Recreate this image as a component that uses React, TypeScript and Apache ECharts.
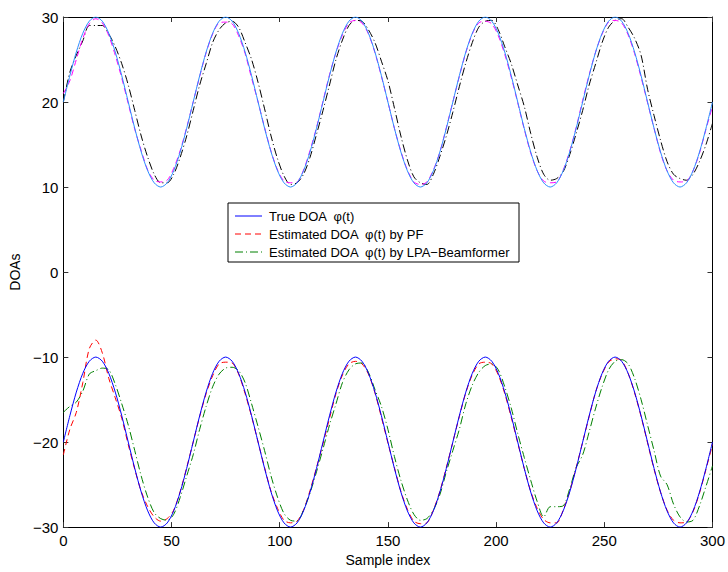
import React, { useEffect, useRef } from "react";
import * as echarts from "echarts";

const sampleStep = 3;

const trueUpper = [
  20, 23.09, 25.88, 28.09, 29.51, 30, 29.51, 28.09, 25.88, 23.09, 20, 16.91, 14.12, 11.91, 10.49, 10, 10.49, 11.91, 14.12, 16.91,
  20, 23.09, 25.88, 28.09, 29.51, 30, 29.51, 28.09, 25.88, 23.09, 20, 16.91, 14.12, 11.91, 10.49, 10, 10.49, 11.91, 14.12, 16.91,
  20, 23.09, 25.88, 28.09, 29.51, 30, 29.51, 28.09, 25.88, 23.09, 20, 16.91, 14.12, 11.91, 10.49, 10, 10.49, 11.91, 14.12, 16.91,
  20, 23.09, 25.88, 28.09, 29.51, 30, 29.51, 28.09, 25.88, 23.09, 20, 16.91, 14.12, 11.91, 10.49, 10, 10.49, 11.91, 14.12, 16.91,
  20, 23.09, 25.88, 28.09, 29.51, 30, 29.51, 28.09, 25.88, 23.09, 20, 16.91, 14.12, 11.91, 10.49, 10, 10.49, 11.91, 14.12, 16.91,
  20,
];

const pfUpper = [
  20, 23.5, 25.5, 27.2, 29, 29, 29, 28, 26.5, 24.5, 22, 19, 16, 13.5, 11.5, 10.5, 10.5, 11.5, 13.5, 16,
  19, 22, 24.5, 27, 28.5, 29.3, 29.5, 28.8, 27, 25, 22.3, 19.2, 16, 13.3, 11.3, 10.3, 10.5, 11.5, 13.5, 16.2,
  19, 22, 25, 27.3, 29, 29.6, 29.5, 28.5, 27, 24.8, 22.5, 19.3, 16, 13.2, 11.2, 10.5, 10.3, 11.5, 13.6, 16,
  18.8, 21.8, 24.6, 27, 28.8, 29.5, 29.6, 28.5, 26.5, 24.5, 22, 19.5, 16.3, 13.5, 11.5, 10.8, 11, 11.8, 13.8, 16.3,
  19, 22, 24.5, 27, 28.8, 29.6, 29.8, 28.8, 27.5, 25.5, 21.5, 18.4, 15.5, 13, 11.5, 11, 10.8, 11.5, 13, 15,
  17.5,
];

const lpaUpper = [
  21, 22.5, 25, 27.5, 29.2, 29.8, 29.3, 27.8, 25.5, 22.8, 19.8, 16.8, 14.3, 12, 10.8, 10.6, 10.8, 12.2, 14.3, 17,
  20, 23, 25.8, 28, 29.3, 29.4, 29.2, 27.8, 25.7, 22.8, 20, 17, 14.2, 12, 10.7, 10.5, 10.6, 12, 14.3, 17,
  20.1, 23.2, 25.8, 27.9, 29.3, 29.6, 29.3, 28, 25.8, 23, 20, 16.9, 14.2, 12, 10.6, 10.3, 10.6, 12, 14.1, 17,
  20, 23, 25.8, 28, 29.3, 29.5, 29.2, 27.8, 25.6, 22.9, 19.9, 16.8, 14, 11.9, 10.7, 10.5, 10.6, 12, 14.2, 17,
  20.2, 23.2, 25.9, 28, 29.4, 29.6, 29.3, 27.9, 25.7, 22.9, 19.9, 16.9, 14, 11.9, 10.8, 10.6, 10.7, 11.9, 14, 16.8,
  19.5,
];

const trueLower = [
  -20, -16.91, -14.12, -11.91, -10.49, -10, -10.49, -11.91, -14.12, -16.91, -20, -23.09, -25.88, -28.09, -29.51, -30, -29.51, -28.09, -25.88, -23.09,
  -20, -16.91, -14.12, -11.91, -10.49, -10, -10.49, -11.91, -14.12, -16.91, -20, -23.09, -25.88, -28.09, -29.51, -30, -29.51, -28.09, -25.88, -23.09,
  -20, -16.91, -14.12, -11.91, -10.49, -10, -10.49, -11.91, -14.12, -16.91, -20, -23.09, -25.88, -28.09, -29.51, -30, -29.51, -28.09, -25.88, -23.09,
  -20, -16.91, -14.12, -11.91, -10.49, -10, -10.49, -11.91, -14.12, -16.91, -20, -23.09, -25.88, -28.09, -29.51, -30, -29.51, -28.09, -25.88, -23.09,
  -20, -16.91, -14.12, -11.91, -10.49, -10, -10.49, -11.91, -14.12, -16.91, -20, -23.09, -25.88, -28.09, -29.51, -30, -29.51, -28.09, -25.88, -23.09,
  -20,
];

const pfLower = [
  -21.5, -18.5, -16.5, -13, -9, -8, -9.5, -12.5, -14.8, -17.2, -20.3, -23.2, -25.8, -27.6, -28.8, -29.3, -29, -28, -25.8, -23,
  -20, -17, -14.3, -12.2, -10.8, -10.6, -10.7, -12, -14.3, -17, -20, -23, -25.8, -27.8, -29.2, -29.5, -29.3, -28, -25.7, -23,
  -20.2, -17.2, -14.3, -12.1, -10.8, -10.5, -10.8, -12, -14.2, -17.1, -20.1, -23, -25.8, -27.9, -29.3, -29.6, -29.5, -28, -25.8, -23,
  -20, -17, -14.2, -12.1, -10.8, -10.6, -10.8, -12.1, -14.3, -17.1, -20.1, -23.1, -25.8, -27.8, -29.1, -29.5, -29.5, -28, -25.8, -23,
  -20, -17, -14.1, -12, -10.6, -10.2, -10.4, -11.9, -14.2, -17, -20.1, -23.2, -25.9, -28, -29.2, -29.5, -29.4, -28.2, -26, -23.2,
  -20.3,
];

const lpaLower = [
  -16.5, -15.8, -15.3, -14, -12, -11.6, -11.3, -11.5, -13.2, -15.5, -18, -21, -24, -26.5, -28.3, -29, -29.2, -28.5, -26.5, -24,
  -21.5, -18.5, -15.8, -13.5, -12, -11.3, -11.2, -11.6, -13, -15.5, -18.2, -21, -24, -26.5, -28.4, -29.2, -29.3, -28, -26, -23.5,
  -20.8, -18, -15.5, -13, -11.5, -10.8, -10.7, -11.8, -13.8, -15.8, -18.5, -21.7, -24.5, -26.8, -28.5, -29.2, -29, -28, -26.2, -23.5,
  -21, -18.5, -15.5, -13.3, -11.8, -11, -10.8, -11.5, -13.5, -16, -19, -21.8, -24.5, -27, -28.8, -27.6, -27.6, -27.5, -25.5, -23,
  -21.5, -18.8, -16, -13.5, -11.5, -10.5, -10.3, -10.8, -12.5, -15, -18, -21, -24, -25, -27.3, -28.8, -29.4, -29.2, -27.5, -25.2,
  -22.8,
];

const xTicks = { min: 0, max: 300, interval: 50 };
const yTicks = { min: -30, max: 30, interval: 10 };

const legendNames = [
  "True DOA  \u03C6(t)",
  "Estimated DOA  \u03C6(t) by PF",
  "Estimated DOA  \u03C6(t) by LPA\u2212Beamformer",
];

function pairs(vals: number[]) {
  return vals.map((v, i) => [i * sampleStep, v]);
}

export default function App() {
  const ref = useRef<HTMLDivElement>(null);
  useEffect(() => {
    if (!ref.current) return;
    const chart = echarts.init(ref.current, undefined, { renderer: "svg" });
    const font = "Liberation Sans, Arial, Helvetica, sans-serif";
    const dashDot = [8, 3, 1, 3];
    const dashed = [6, 4];
    const colors = {
      upperTrue: "#2b8cff",
      upperPF: "#000000",
      upperLPA: "#ff00ff",
      lowerTrue: "#0000ff",
      lowerPF: "#ff0000",
      lowerLPA: "#008000",
    };
    const axisCommon = {
      type: "value" as const,
      splitLine: { show: false },
      axisLine: { show: true, onZero: false, lineStyle: { color: "#000", width: 1 } },
      axisTick: { show: true, inside: true, length: 5, lineStyle: { color: "#333" } },
    };
    const mk = (name: string, vals: number[], color: string, type: any, z = 2) => ({
      name,
      type: "line" as const,
      data: pairs(vals),
      showSymbol: false,
      symbol: "none",
      smooth: 0.3,
      z,
      lineStyle: { color, width: 1, type },
      itemStyle: { color },
    });
    const lx = 228, ly = 203, lw = 291, lh = 59;
    const rowY = [216, 234, 252];
    const legendStyles = [
      { color: colors.lowerTrue, dash: null as any },
      { color: colors.lowerPF, dash: dashed },
      { color: colors.lowerLPA, dash: dashDot },
    ];
    const legendGraphics: any[] = [
      {
        type: "rect",
        shape: { x: lx, y: ly, width: lw, height: lh },
        style: { fill: "#fff", stroke: "#000", lineWidth: 1 },
        z: 100,
      },
    ];
    legendNames.forEach((n, i) => {
      legendGraphics.push({
        type: "line",
        shape: { x1: lx + 7, y1: rowY[i], x2: lx + 34, y2: rowY[i] },
        style: { stroke: legendStyles[i].color, lineWidth: 1, lineDash: legendStyles[i].dash },
        z: 101,
      });
      legendGraphics.push({
        type: "text",
        x: lx + 41,
        y: rowY[i],
        style: { text: n, fill: "#000", font: `13px ${font}`, verticalAlign: "middle", align: "left" },
        z: 101,
      });
    });
    chart.setOption({
      animation: false,
      backgroundColor: "#fff",
      grid: { left: 59, right: 11, top: 17, bottom: 37 },
      xAxis: [
        {
          ...axisCommon,
          position: "bottom",
          ...xTicks,
          name: "Sample index",
          nameLocation: "middle",
          nameGap: 24,
          nameTextStyle: { fontFamily: font, fontSize: 14, color: "#000" },
          axisLabel: { fontFamily: font, fontSize: 15, color: "#000", margin: 6 },
        },
        {
          ...axisCommon,
          position: "top",
          ...xTicks,
          axisLabel: { show: false },
        },
      ],
      yAxis: [
        {
          ...axisCommon,
          position: "left",
          ...yTicks,
          name: "DOAs",
          nameLocation: "middle",
          nameGap: 41,
          nameRotate: 90,
          nameTextStyle: { fontFamily: font, fontSize: 14, color: "#000" },
          axisLabel: {
            fontFamily: font,
            fontSize: 15,
            color: "#000",
            margin: 5,
            formatter: (v: number) => (v < 0 ? "\u2212" + Math.abs(v) : String(v)),
          },
        },
        {
          ...axisCommon,
          position: "right",
          ...yTicks,
          axisLabel: { show: false },
        },
      ],
      graphic: legendGraphics,
      series: [
        mk("upperTrue", trueUpper, colors.upperTrue, "solid", 3),
        mk("upperPF", pfUpper, colors.upperPF, dashDot, 2),
        mk("upperLPA", lpaUpper, colors.upperLPA, dashed, 2),
        mk(legendNames[0], trueLower, colors.lowerTrue, "solid", 3),
        mk(legendNames[1], pfLower, colors.lowerPF, dashed, 2),
        mk(legendNames[2], lpaLower, colors.lowerLPA, dashDot, 2),
      ],
    });
    return () => chart.dispose();
  }, []);
  return <div ref={ref} style={{ width: 728, height: 572, position: "absolute", left: 0, top: 0 }} />;
}
